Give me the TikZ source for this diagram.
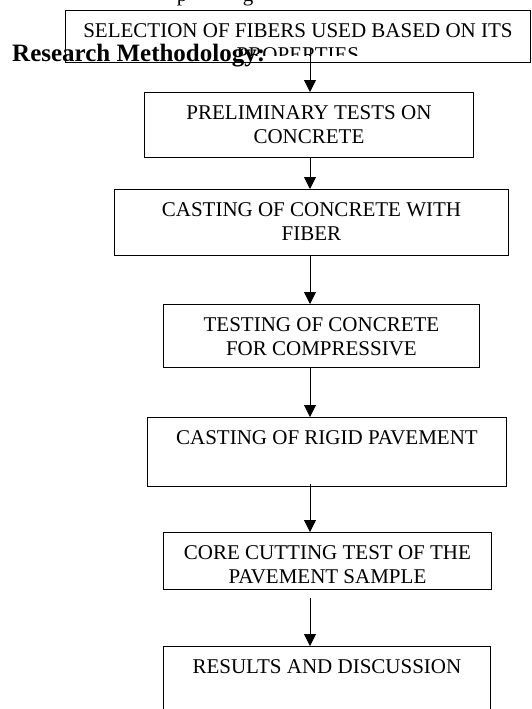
\documentclass[tikz,border=0pt]{standalone}
\usepackage{fontspec}
\setmainfont{Liberation Serif}
\usetikzlibrary{arrows.meta}

\tikzset{
    stage/.style={draw,line width=0.9pt,inner sep=0pt,anchor=north west,font=\fontsize{21}{24}\selectfont},
    flow/.style={-{Triangle[width=12pt,length=12pt]},line width=0.8pt},
}
% box text, top aligned: width, height, text
\newcommand{\stagetext}[3]{\parbox[t][#2pt][t]{#1pt}{\centering\vspace*{13pt}#3}}

\begin{document}
\begin{tikzpicture}[x=1pt,y=-1pt]
        \useasboundingbox (0,0) rectangle (531,709);
        % remains of the line above
        \node[anchor=base,inner sep=0pt,font=\fontsize{21}{24}\selectfont] (frag1) at (182,2) {p};
        \node[anchor=base,inner sep=0pt,font=\fontsize{21}{24}\selectfont] (frag2) at (248,2) {g};
        \begin{scope}
            \clip (65,10) rectangle (530,56);
            \node[stage,draw=none] (b1) at (65,10) {\stagetext{465}{52}{SELECTION OF FIBERS USED BASED ON ITS\\PROPERTIES}};
        \end{scope}
        \draw[line width=0.9pt] (b1.north west) rectangle (b1.south east);
        \node[stage] (b2) at (144,92) {\stagetext{329}{65}{PRELIMINARY TESTS ON\\CONCRETE}};
        \node[stage] (b3) at (114,189) {\stagetext{394}{66}{CASTING OF CONCRETE WITH\\FIBER}};
        \node[stage] (b4) at (163,304) {\stagetext{316}{63}{TESTING OF CONCRETE\\FOR COMPRESSIVE}};
        \node[stage] (b5) at (147,417) {\stagetext{359}{69}{CASTING OF RIGID PAVEMENT}};
        \node[stage] (b6) at (163,532) {\stagetext{328}{57}{CORE CUTTING TEST OF THE\\PAVEMENT SAMPLE}};
        \node[stage] (b7) at (163,646) {\stagetext{327}{80}{RESULTS AND DISCUSSION}};
        \node[anchor=base west,inner sep=0pt,font=\bfseries\fontsize{25}{29}\selectfont] (title) at (12,62) {Research Methodology:};
        \coordinate (ax) at (310,0);
        \draw[flow] (b1.south -| ax) ++(0,-15) -- (b2.north -| ax);
        \draw[flow] (b2.south -| ax) -- (b3.north -| ax);
        \draw[flow] (b3.south -| ax) -- (b4.north -| ax);
        \draw[flow] (b4.south -| ax) -- (b5.north -| ax);
        \draw[flow] (b5.south -| ax) ++(0,-3) -- (b6.north -| ax);
        \draw[flow] (b6.south -| ax) ++(0,8) -- (b7.north -| ax);
\end{tikzpicture}
\end{document}
